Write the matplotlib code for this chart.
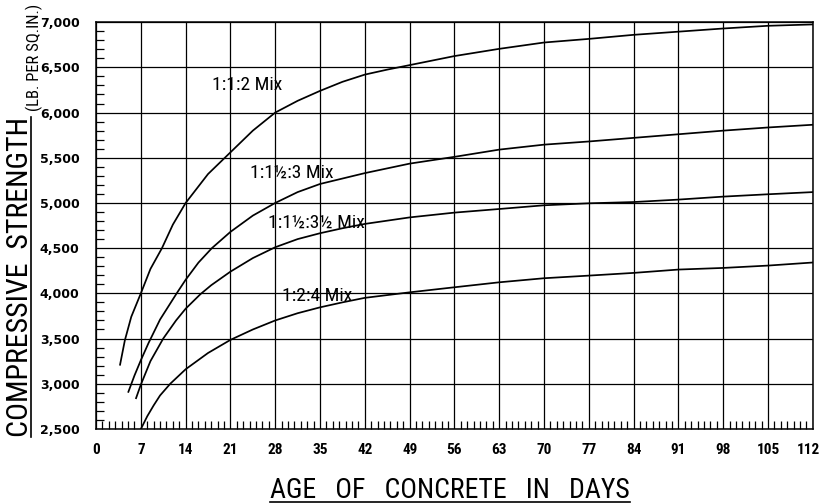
import matplotlib
matplotlib.use("Agg")
import matplotlib.pyplot as plt
from matplotlib.ticker import MultipleLocator, FuncFormatter
from matplotlib.lines import Line2D
from matplotlib.transforms import ScaledTranslation

NARROW = ["DejaVu Sans Condensed", "Roboto Condensed", "Liberation Sans"]

# curves: age (days) vs compressive strength (lb per sq in)
days_112 = [3.75, 4.5, 5.5, 7, 8.5, 10.3, 12, 14, 17.5, 21, 24.5, 28, 31.5, 35, 38.5, 42,
            45.5, 49, 56, 63, 70, 77, 84, 91, 98, 105, 112]
str_112 = [3210, 3480, 3740, 4000, 4270, 4500, 4760, 5000, 5320, 5560, 5800, 6000, 6130,
           6240, 6340, 6420, 6475, 6525, 6625, 6705, 6775, 6815, 6860, 6895, 6930, 6960, 6975]

days_1153 = [5.05, 6, 7, 8.2, 10, 12.6, 14, 16, 18.1, 21, 24.5, 28, 31.5, 35, 38.5, 42,
             49, 56, 63, 70, 77, 84, 91, 98, 105, 112]
str_1153 = [2910, 3090, 3260, 3450, 3710, 4000, 4150, 4340, 4500, 4680, 4860, 5000, 5120,
            5210, 5270, 5330, 5435, 5510, 5590, 5645, 5680, 5720, 5760, 5800, 5835, 5865]

days_11535 = [6.25, 7, 8.5, 10.5, 12.5, 14, 16.3, 18, 21, 24.5, 28, 31.5, 35, 38.5, 42,
              49, 56, 63, 70, 77, 84, 91, 98, 105, 112]
str_11535 = [2840, 2990, 3250, 3500, 3700, 3830, 3990, 4090, 4240, 4390, 4510, 4600, 4665,
             4720, 4768, 4840, 4893, 4933, 4974, 4996, 5010, 5037, 5070, 5096, 5120]

days_124 = [6.8, 8, 9, 10, 11.6, 14, 17.5, 21, 24.5, 28, 31.5, 35, 38.5, 42, 49, 56, 63,
            70, 77, 84, 91, 98, 105, 112]
str_124 = [2470, 2640, 2760, 2870, 3000, 3160, 3340, 3485, 3600, 3700, 3780, 3845, 3900,
           3950, 4011, 4067, 4122, 4167, 4196, 4226, 4263, 4281, 4307, 4341]

mix_labels = ["1:1:2 Mix", "1:1½:3 Mix", "1:1½:3½ Mix", "1:2:4 Mix"]
label_pos = [(18.1, 6300), (24.0, 5330), (26.9, 4780), (29.0, 3970)]

W, H = 821, 504
fig = plt.figure(figsize=(W / 100, H / 100), dpi=100)
ax = fig.add_axes([0.117, 0.149, 0.873, 0.807])

for d, s in [(days_112, str_112), (days_1153, str_1153),
             (days_11535, str_11535), (days_124, str_124)]:
    ax.plot(d, s, color="black", lw=1.25, solid_joinstyle="round", zorder=3)

for lab, (x, y) in zip(mix_labels, label_pos):
    ax.text(x, y, lab, family=NARROW, fontstretch="condensed", fontsize=14,
            ha="left", va="center", color="black", zorder=4)

ax.set_xlim(0, 112)
ax.set_ylim(2500, 7000)
ax.set_xticks(range(0, 113, 7))
ax.set_yticks(range(2500, 7001, 500))
ax.xaxis.set_minor_locator(MultipleLocator(1))
ax.yaxis.set_minor_locator(MultipleLocator(100))
ax.yaxis.set_major_formatter(FuncFormatter(lambda v, p: f"{int(v):,}"))

ax.grid(which="major", color="black", lw=0.9)
ax.tick_params(which="major", length=0)
ax.tick_params(axis="x", which="major", pad=10)
ax.tick_params(axis="y", which="major", pad=12)
ax.tick_params(which="minor", direction="in", length=6, width=0.9,
               top=False, right=False, color="black")
for lbl in ax.get_xticklabels():
    lbl.set_family(NARROW)
    lbl.set_fontstretch("condensed")
    lbl.set_fontsize(11)
    lbl.set_fontweight("bold")
for lbl in ax.get_yticklabels():
    lbl.set_family("DejaVu Sans")
    lbl.set_fontsize(9)
    lbl.set_fontweight("bold")
for sp in ax.spines.values():
    sp.set_linewidth(1.1)
    sp.set_color("black")

# the "112" label sits hard against the right edge, nudge it in a little
last = ax.get_xticklabels()[-1]
last.set_transform(last.get_transform() + ScaledTranslation(-4 / 100, 0, fig.dpi_scale_trans))

# axis titles, placed by their baselines so the underlines can follow
ylab = fig.text(28 / W, 1 - 437 / H, "COMPRESSIVE  STRENGTH", family=NARROW,
                fontstretch="condensed", fontsize=21.5, rotation=90,
                rotation_mode="anchor", ha="left", va="baseline")
yunit = fig.text(39 / W, 1 - 111 / H, "(LB. PER SQ.IN.)", family=NARROW,
                 fontstretch="condensed", fontsize=12, rotation=90,
                 rotation_mode="anchor", ha="left", va="baseline")
xlab = fig.text(450 / W, 1 - 498 / H, "AGE   OF   CONCRETE   IN   DAYS", family=NARROW,
                fontstretch="condensed", fontsize=20, ha="center", va="baseline")

fig.canvas.draw()
r = fig.canvas.get_renderer()
inv = fig.transFigure.inverted()
bb = ylab.get_window_extent(r).transformed(inv)
fig.add_artist(Line2D([31 / W, 31 / W], [bb.y0, bb.y1],
                      transform=fig.transFigure, color="black", lw=1.2))
bb = xlab.get_window_extent(r).transformed(inv)
fig.add_artist(Line2D([bb.x0, bb.x1], [1 - 501.5 / H, 1 - 501.5 / H],
                      transform=fig.transFigure, color="black", lw=1.2))

fig.savefig("out.png", dpi=100)
